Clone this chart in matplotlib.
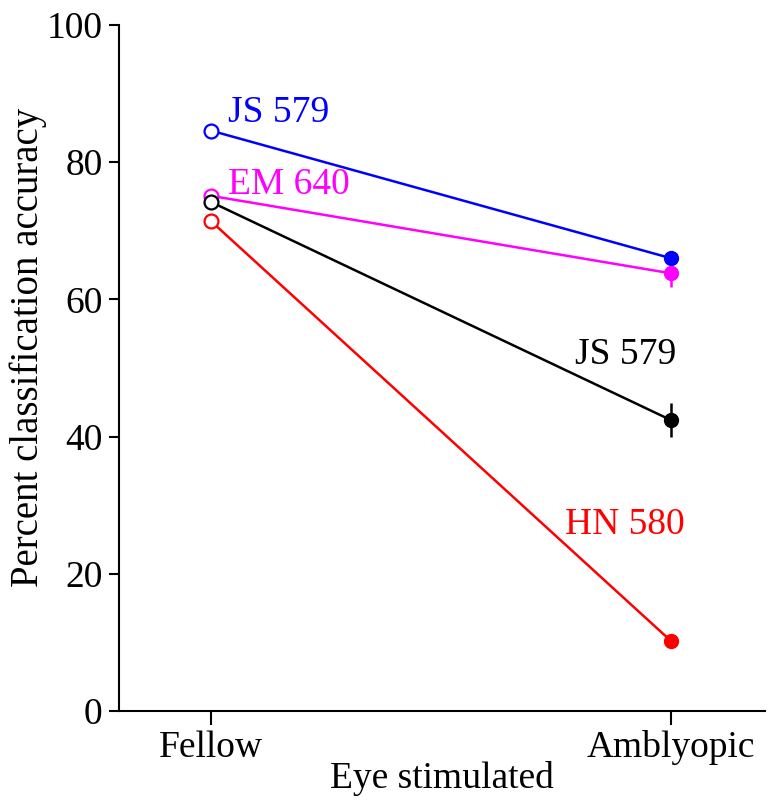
import numpy as np
import matplotlib.pyplot as plt

plt.rcParams['font.family'] = ['Liberation Serif', 'DejaVu Serif']

conditions = ['Fellow', 'Amblyopic']
names = ['JS 579', 'EM 640', 'JS 579', 'HN 580']
colors = ['#0000ff', '#ff00ff', '#000000', '#ff0000']
fellow = [84.6, 75.1, 74.2, 71.4]
amblyopic = [66.0, 63.8, 42.4, 10.2]
amb_err = [1.0, 2.0, 2.5, 0.5]
label_pos = [(1.037, 87.2), (1.037, 76.7), (1.791, 51.9), (1.77, 27.1)]

fig = plt.figure(figsize=(7.73, 8.07), dpi=100)
ax = fig.add_axes([0.154, 0.119, 0.836, 0.85])

x = np.array([1, 2])
for i in range(len(names)):
    ax.plot(x, [fellow[i], amblyopic[i]], color=colors[i], lw=1.8, zorder=2)
    ax.plot(1, fellow[i], 'o', ms=10, mfc='white', mec=colors[i], mew=1.6, zorder=3)
    ax.errorbar(2, amblyopic[i], yerr=amb_err[i], fmt='o', ms=10,
                color=colors[i], elinewidth=1.8, capsize=0, zorder=3)
    ax.text(label_pos[i][0], label_pos[i][1], names[i], color=colors[i],
            fontsize=27, va='center', ha='left')

ax.set_xlim(0.8, 2.205)
ax.set_ylim(0, 100)
ax.set_xticks(x)
ax.set_xticklabels(conditions)
ax.set_yticks([0, 20, 40, 60, 80, 100])
ax.tick_params(axis='both', labelsize=27, width=1.5, direction='out')
ax.tick_params(axis='y', length=7, pad=5)
ax.tick_params(axis='x', length=10, pad=4)
for s in ['top', 'right']:
    ax.spines[s].set_visible(False)
for s in ['left', 'bottom']:
    ax.spines[s].set_linewidth(1.5)
ax.set_xlabel('Eye stimulated', fontsize=27, labelpad=-3)
ax.set_ylabel('Percent classification accuracy', fontsize=28)
ax.yaxis.set_label_coords(-0.112, 0.53)

fig.savefig('out.png', dpi=100)
